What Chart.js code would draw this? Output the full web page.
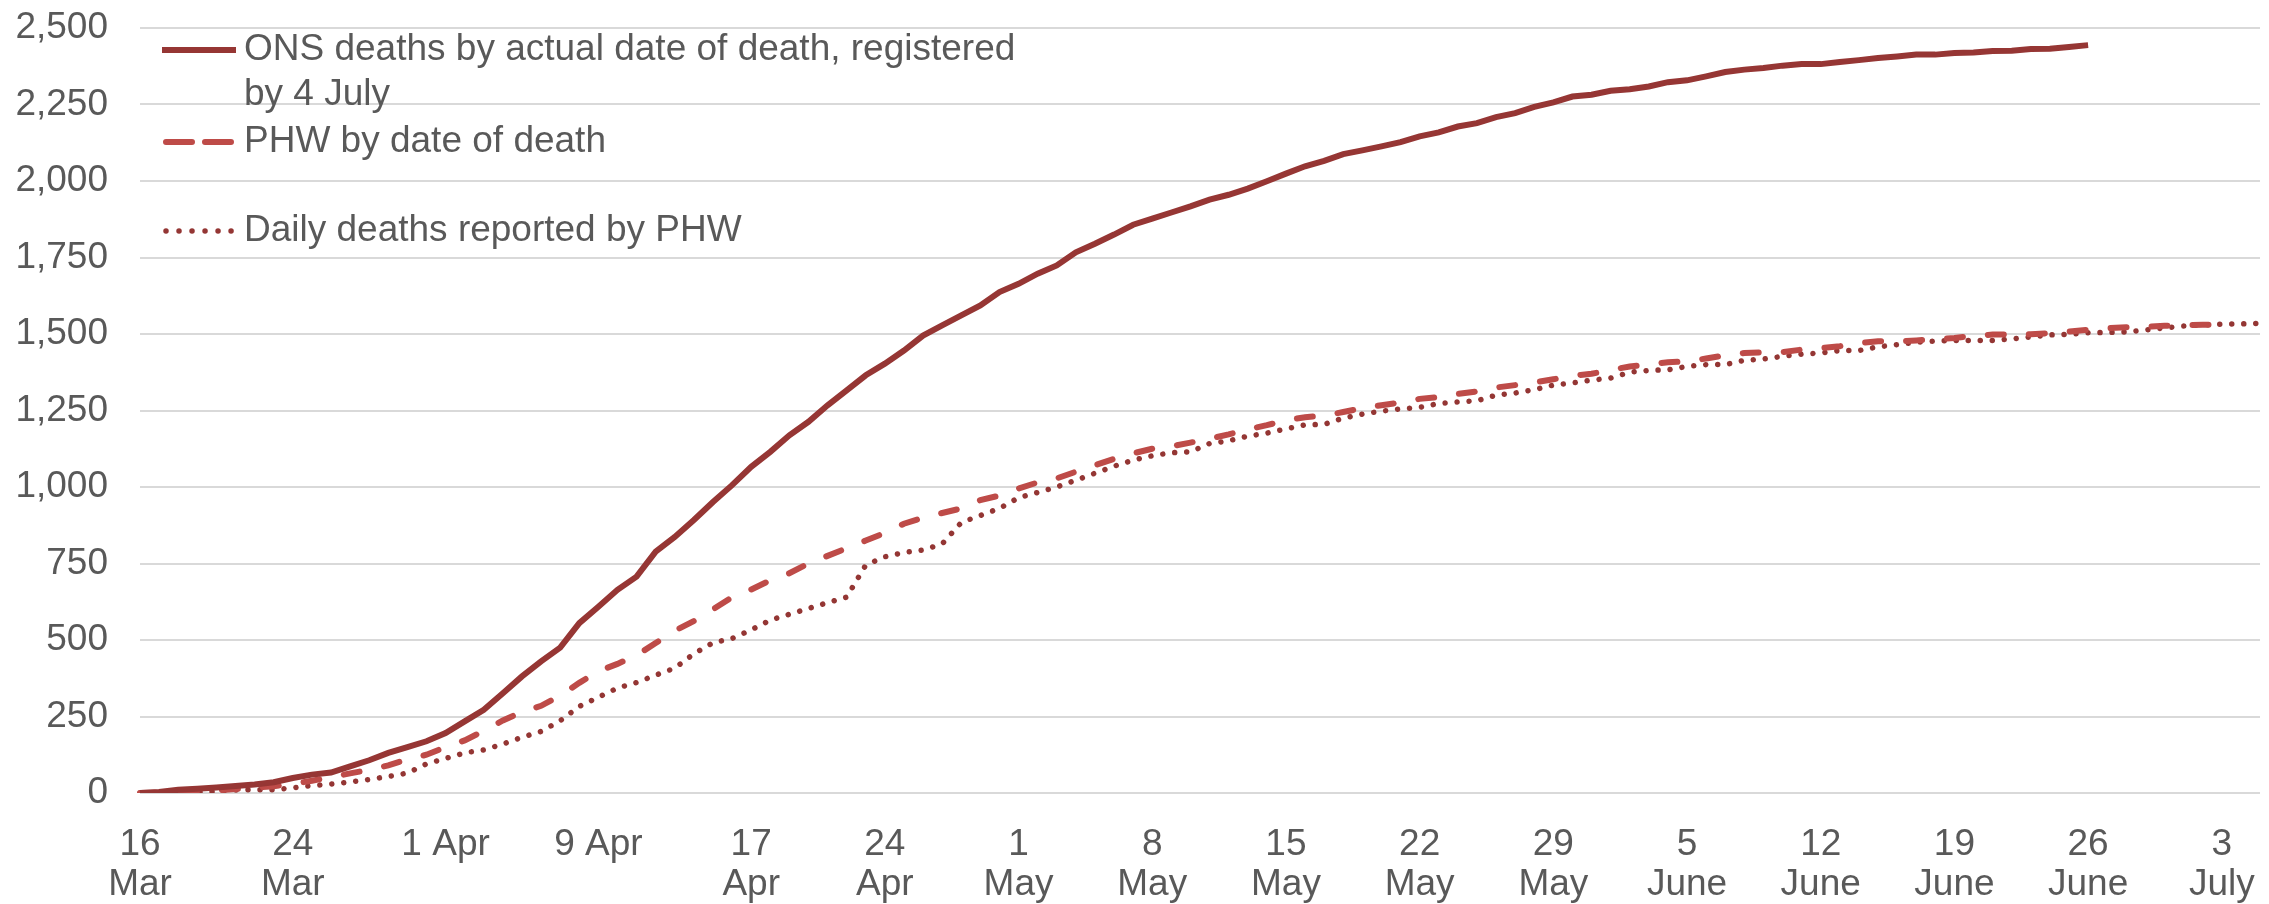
<!DOCTYPE html>
<html>
<head>
<meta charset="utf-8">
<script src="https://cdn.jsdelivr.net/npm/chart.js@4"></script>
<style>
  body { margin: 0; background: #fff; }
  #deathsChart { display: block; }
</style>
</head>
<body>
<canvas id="deathsChart" width="2269" height="904"></canvas>
<script>
// daily categories, 16 March to 5 July
const months = ['Mar', 'Apr', 'May', 'Jun', 'Jul'];
const monthLengths = [31, 30, 31, 30, 31];
const days = [];
for (let m = 0, d = 16; days.length < 112; d++) {
    if (d > monthLengths[m]) { m++; d = 1; }
    days.push(d + ' ' + months[m]);
}

// the dates Excel labelled, and how the labels were written
const tickDates = ['16 Mar', '24 Mar', '1 Apr', '9 Apr', '17 Apr', '24 Apr', '1 May', '8 May',
    '15 May', '22 May', '29 May', '5 Jun', '12 Jun', '19 Jun', '26 Jun', '3 Jul'];
const tickText = [['16', 'Mar'], ['24', 'Mar'], '1 Apr', '9 Apr', ['17', 'Apr'], ['24', 'Apr'],
    ['1', 'May'], ['8', 'May'], ['15', 'May'], ['22', 'May'], ['29', 'May'], ['5', 'June'],
    ['12', 'June'], ['19', 'June'], ['26', 'June'], ['3', 'July']];

const yTicks = [0, 250, 500, 750, 1000, 1250, 1500, 1750, 2000, 2250, 2500];

// cumulative deaths
const onsDeaths = [
    0, 3, 11, 14, 18, 23, 28, 35, 49, 60, 67, 87, 107, 131, 150, 169, 196, 234, 272, 326, 381, 430, 475, 555, 609, 664, 707, 789,
    837, 892, 951, 1006, 1066, 1115, 1169, 1213, 1267, 1316, 1365, 1403, 1446, 1495, 1528, 1561, 1593, 1637, 1664, 1697, 1724, 1767, 1795, 1825,
    1857, 1877, 1897, 1917, 1939, 1955, 1975, 1999, 2024, 2048, 2066, 2088, 2100, 2113, 2127, 2146, 2159, 2178, 2189, 2209, 2222, 2242, 2257, 2276, 2282, 2295,
    2300, 2309, 2323, 2329, 2342, 2356, 2364, 2369, 2377, 2382, 2382, 2389, 2395, 2402, 2407, 2413, 2413, 2418, 2420, 2425, 2426, 2431, 2432, 2438, 2444
];
const phwByDate = [
    0, 1, 4, 6, 9, 13, 18, 22, 30, 40, 52, 64, 76, 90, 110, 125, 150, 172, 203, 237, 265, 285, 318, 360, 398, 422, 450, 490,
    530, 562, 600, 640, 665, 695, 718, 750, 775, 800, 825, 850, 880, 900, 915, 930, 957, 972, 995, 1015, 1028, 1050, 1071, 1092,
    1110, 1125, 1133, 1145, 1158, 1172, 1188, 1202, 1218, 1228, 1233, 1245, 1258, 1267, 1276, 1288, 1294, 1304, 1312, 1325, 1333, 1342, 1352, 1363, 1370, 1382,
    1394, 1400, 1408, 1410, 1420, 1430, 1438, 1440, 1441, 1449, 1454, 1460, 1470, 1476, 1476, 1479, 1483, 1487, 1494, 1498, 1498, 1499, 1503, 1508, 1514, 1519,
    1522, 1523, 1527, 1529, 1530, 1531
];
const phwDaily = [
    0, 0, 1, 3, 5, 10, 11, 11, 17, 24, 29, 36, 44, 54, 65, 95, 113, 131, 141, 160, 182, 201, 236, 283, 313, 343, 361, 385,
    408, 455, 491, 505, 533, 565, 584, 603, 622, 640, 745, 772, 786, 794, 814, 884, 907, 930, 965, 982, 1000, 1022, 1045, 1068,
    1088, 1102, 1112, 1115, 1142, 1151, 1166, 1176, 1190, 1203, 1205, 1225, 1238, 1248, 1255, 1260, 1273, 1278, 1282, 1300, 1307, 1318, 1333, 1340, 1349, 1356,
    1375, 1381, 1383, 1394, 1400, 1400, 1414, 1418, 1427, 1434, 1438, 1446, 1446, 1458, 1465, 1473, 1477, 1479, 1479, 1479, 1484, 1490, 1497, 1499, 1504, 1505,
    1507, 1513, 1520, 1526, 1530, 1532, 1533, 1535
];

const legendText = [
    ['ONS deaths by actual date of death, registered', 'by 4 July'],
    ['PHW by date of death'],
    ['Daily deaths reported by PHW']
];

const FONT = '"Liberation Sans", Arial, sans-serif';
const TEXT = '#595959';

// legend sits inside the plot, top left, like the Excel original
const insideLegend = {
    id: 'insideLegend',
    afterDatasetsDraw(chart) {
        const ctx = chart.ctx;
        const rowY = [50, 142, 231];
        const samples = [[], [26, 13], [0.01, 13]];
        ctx.save();
        chart.data.datasets.forEach((ds, i) => {
            const y = rowY[i];
            ctx.beginPath();
            ctx.strokeStyle = ds.borderColor;
            ctx.lineWidth = ds.borderWidth;
            ctx.lineCap = i === 0 ? 'butt' : 'round';
            ctx.setLineDash(samples[i]);
            ctx.moveTo(i === 0 ? 162 : 166, y);
            ctx.lineTo(236, y);
            ctx.stroke();
            ctx.setLineDash([]);
            ctx.font = '37px ' + FONT;
            ctx.fillStyle = TEXT;
            ctx.textBaseline = 'middle';
            ctx.textAlign = 'left';
            legendText[i].forEach((line, j) => ctx.fillText(line, 244, y + j * 45));
        });
        ctx.restore();
    }
};

new Chart(document.getElementById('deathsChart'), {
    type: 'line',
    data: {
        labels: days,
        datasets: [{
            label: legendText[0].join(' '),
            data: onsDeaths,
            borderColor: '#963634',
            borderWidth: 6,
            pointRadius: 0,
            tension: 0
        }, {
            label: legendText[1][0],
            data: phwByDate,
            borderColor: '#BE4B48',
            borderWidth: 6,
            borderDash: [16, 25],
            borderCapStyle: 'round',
            pointRadius: 0,
            tension: 0
        }, {
            label: legendText[2][0],
            data: phwDaily,
            borderColor: '#943634',
            borderWidth: 5.5,
            borderDash: [0.01, 12],
            borderCapStyle: 'round',
            pointRadius: 0,
            tension: 0
        }]
    },
    options: {
        responsive: false,
        animation: false,
        devicePixelRatio: 1,
        layout: { padding: { top: 28, right: 9, left: 0, bottom: 0 } },
        plugins: { legend: { display: false }, tooltip: { enabled: false } },
        scales: {
            x: {
                grid: { display: false },
                border: { display: false },
                afterFit: s => { s.height = 111; s.paddingLeft = 0; s.paddingRight = 0; },
                ticks: {
                    autoSkip: false,
                    maxRotation: 0,
                    minRotation: 0,
                    padding: 23,
                    color: TEXT,
                    font: { family: FONT, size: 37, lineHeight: 1.1 },
                    callback: (v, i) => {
                        const k = tickDates.indexOf(days[i]);
                        return k >= 0 ? tickText[k] : null;
                    }
                }
            },
            y: {
                min: 0,
                max: 2500,
                afterFit: s => { s.width = 140; s.paddingTop = 0; s.paddingBottom = 0; },
                afterBuildTicks: s => { s.ticks = yTicks.map(v => ({ value: v })); },
                grid: { color: '#D9D9D9', lineWidth: 2, drawTicks: false },
                border: { display: false },
                ticks: {
                    padding: 32,
                    color: TEXT,
                    font: { family: FONT, size: 37 },
                    callback: v => v.toLocaleString('en-GB')
                }
            }
        }
    },
    plugins: [insideLegend]
});
</script>
</body>
</html>
